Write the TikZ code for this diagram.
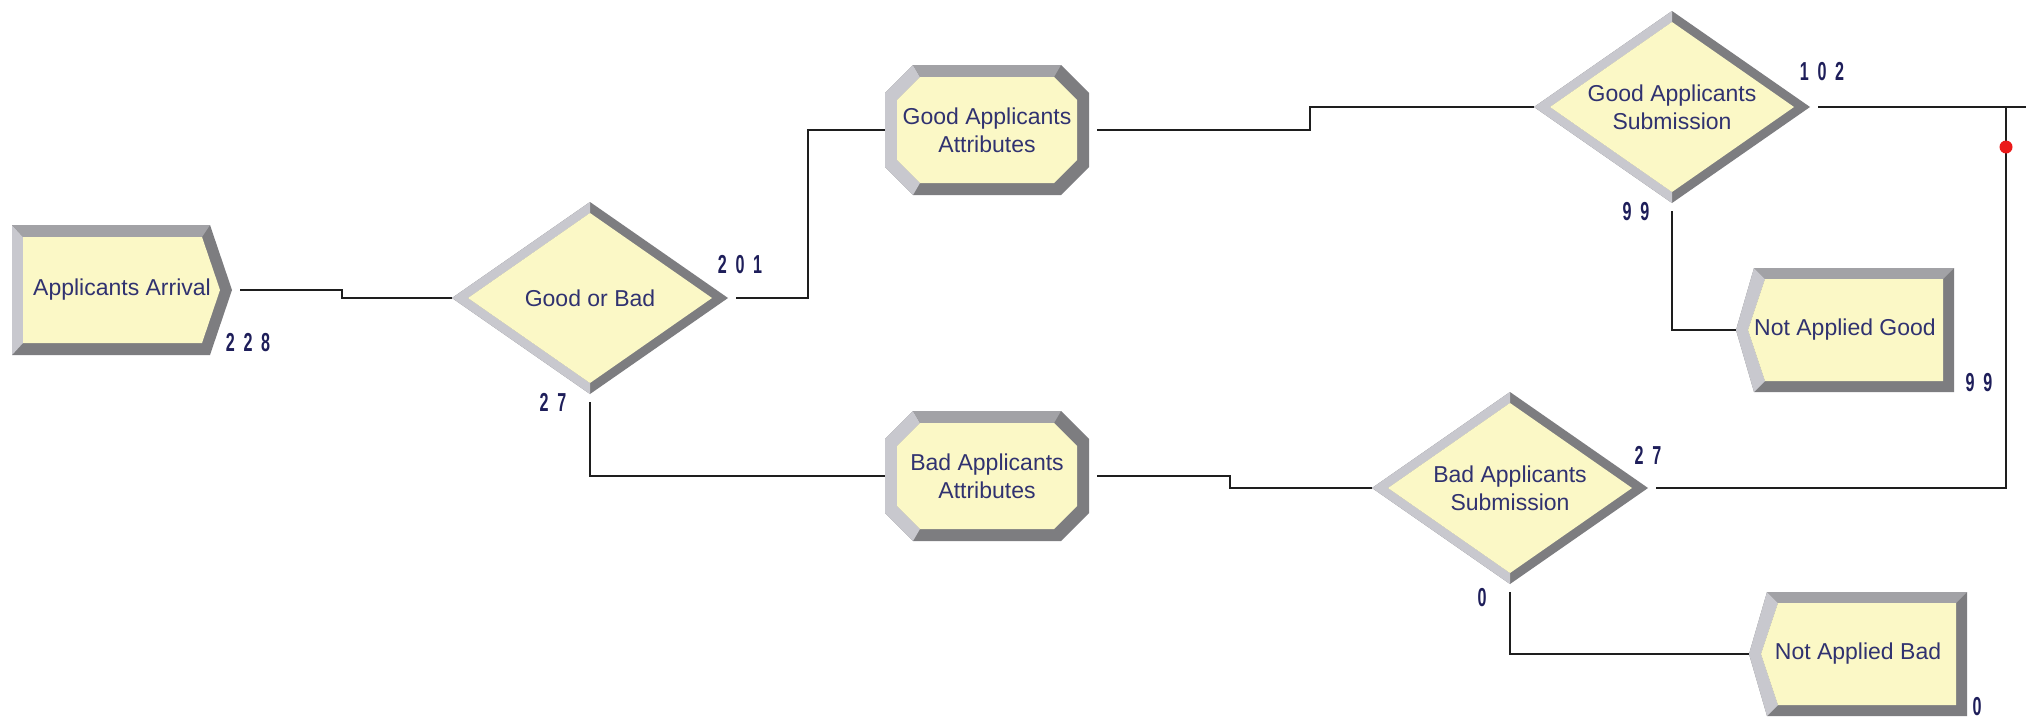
\documentclass[tikz,border=0pt]{standalone}
\usepackage{fontspec}
\setmainfont{Liberation Sans}
\usetikzlibrary{shapes.geometric}

\definecolor{modfill}{RGB}{251,248,198}
\definecolor{bevlight}{RGB}{200,200,206}
\definecolor{bevmid}{RGB}{162,162,166}
\definecolor{bevdark}{RGB}{125,125,128}
\definecolor{labtxt}{RGB}{48,50,112}
\definecolor{cnttxt}{RGB}{30,30,90}
\definecolor{wirecol}{RGB}{30,30,30}
\definecolor{markred}{RGB}{235,25,25}

% narrow, widely spaced counter digits
\newcommand\cnt[1]{\scalebox{0.62}[1]{\spaceskip=14pt\relax #1}}

% Decide module: bevelled diamond
\newcommand\decidemod[4]{%
  \begin{scope}[shift={(#2,#3)}]
    \fill[bevdark] (-138,0) -- (0,-96) -- (138,0) -- (0,96) -- cycle;
    \fill[bevlight] (-138,0) -- (0,-96) -- (0,-85) -- (-122,0) -- (0,85) -- (0,96) -- cycle;
    \fill[modfill] (-122,0) -- (0,-85) -- (122,0) -- (0,85) -- cycle;
  \end{scope}
  \node[decide] (#1) at (#2,#3) {#4};}

% Assign module: bevelled box with cut corners
\newcommand\assignmod[4]{%
  \begin{scope}[shift={(#2,#3)}]
    \fill[bevdark] (-102,-37) -- (-74,-65) -- (74,-65) -- (102,-37) -- (102,37) -- (74,65) -- (-74,65) -- (-102,37) -- cycle;
    \fill[bevlight] (-74,65) -- (-102,37) -- (-102,-37) -- (-74,-65) -- (-67,-53) -- (-90,-30) -- (-90,30) -- (-67,53) -- cycle;
    \fill[bevmid] (-74,-65) -- (74,-65) -- (67,-53) -- (-67,-53) -- cycle;
    \fill[modfill] (-90,-30) -- (-67,-53) -- (67,-53) -- (90,-30) -- (90,30) -- (67,53) -- (-67,53) -- (-90,30) -- cycle;
  \end{scope}
  \node[assign] (#1) at (#2,#3) {#4};}

% Create module: box with a chevron on the right
\newcommand\createmod[4]{%
  \begin{scope}[shift={(#2,#3)}]
    \fill[bevdark] (-110,-65) -- (88,-65) -- (110,0) -- (88,65) -- (-110,65) -- cycle;
    \fill[bevlight] (-110,65) -- (-110,-65) -- (-99,-53) -- (-99,53) -- cycle;
    \fill[bevmid] (-110,-65) -- (88,-65) -- (80,-53) -- (-99,-53) -- cycle;
    \fill[modfill] (-99,-53) -- (80,-53) -- (98,0) -- (80,53) -- (-99,53) -- cycle;
  \end{scope}
  \node[createbox] (#1) at (#2,#3) {#4};}

% Dispose module: box with a chevron on the left
\newcommand\disposemod[4]{%
  \begin{scope}[shift={(#2,#3)}]
    \fill[bevdark] (-109,0) -- (-91,-62) -- (109,-62) -- (109,62) -- (-91,62) -- cycle;
    \fill[bevlight] (-109,0) -- (-91,-62) -- (-80,-51) -- (-97,0) -- (-80,51) -- (-91,62) -- cycle;
    \fill[bevmid] (-91,-62) -- (109,-62) -- (98,-51) -- (-80,-51) -- cycle;
    \fill[modfill] (-97,0) -- (-80,-51) -- (98,-51) -- (98,51) -- (-80,51) -- cycle;
  \end{scope}
  \node[disposebox] (#1) at (#2,#3) {#4};}

\begin{document}
\begin{tikzpicture}[x=1pt,y=-1pt,
  modtext/.style={inner sep=0pt, outer sep=0pt, align=center, text=labtxt,
    font=\fontsize{23}{28}\selectfont},
  decide/.style={modtext, shape=diamond, aspect=1.44, minimum width=276pt, minimum height=192pt},
  assign/.style={modtext, shape=rectangle, minimum width=204pt, minimum height=130pt},
  createbox/.style={modtext, shape=rectangle, minimum width=220pt, minimum height=130pt},
  disposebox/.style={modtext, shape=rectangle, minimum width=218pt, minimum height=124pt},
  count/.style={inner sep=0pt, text=cnttxt, font=\fontsize{26}{28}\selectfont\bfseries},
  wire/.style={draw=wirecol, line width=2pt},
  exit/.style={shorten <=8pt},
  marker/.style={circle, fill=markred, minimum size=13pt, inner sep=0pt}]

\useasboundingbox (0,0) rectangle (2026,718);
\fill[white] (0,0) rectangle (2026,718);

% modules
\createmod{arr}{122}{290}{Applicants Arrival}
\decidemod{gob}{590}{298}{Good or Bad}
\assignmod{gatt}{987}{130}{Good Applicants\\Attributes}
\assignmod{batt}{987}{476}{Bad Applicants\\Attributes}
\decidemod{gsub}{1672}{107}{Good Applicants\\Submission}
\decidemod{bsub}{1510}{488}{Bad Applicants\\Submission}
\disposemod{nag}{1845}{330}{Not Applied Good}
\disposemod{nab}{1858}{654}{Not Applied Bad}

% free ends of the merged route on the right
\coordinate (out) at (2040,107);
\coordinate (join) at (2006,107);

% connectors
\draw[wire, exit] (arr.east) -- ++(110,0) |- (gob.west);
\draw[wire, exit] (gob.east) -- ++(80,0) |- (gatt.west);
\draw[wire, exit] (gob.south) |- (batt.west);
\draw[wire, exit] (gatt.east) -- ++(221,0) |- (gsub.west);
\draw[wire, exit] (batt.east) -- ++(141,0) |- (bsub.west);
\draw[wire, exit] (gsub.east) -- (out);
\draw[wire, exit] (gsub.south) |- (nag.west);
\draw[wire, exit] (bsub.east) -| (join);
\draw[wire, exit] (bsub.south) |- (nab.west);

\node[marker] (mark) at (2006,147) {};

% counters
\node[count] (c228) at (248,343) {\cnt{2 2 8}};
\node[count] (c201) at (740,265) {\cnt{2 0 1}};
\node[count] (c27a) at (553,402) {\cnt{2 7}};
\node[count] (c102) at (1822,72) {\cnt{1 0 2}};
\node[count] (c99a) at (1636,212) {\cnt{9 9}};
\node[count] (c99b) at (1979,383) {\cnt{9 9}};
\node[count] (c27b) at (1648,455) {\cnt{2 7}};
\node[count] (c0a) at (1482,598) {\cnt{0}};
\node[count] (c0b) at (1977,707) {\cnt{0}};
\end{tikzpicture}
\end{document}
